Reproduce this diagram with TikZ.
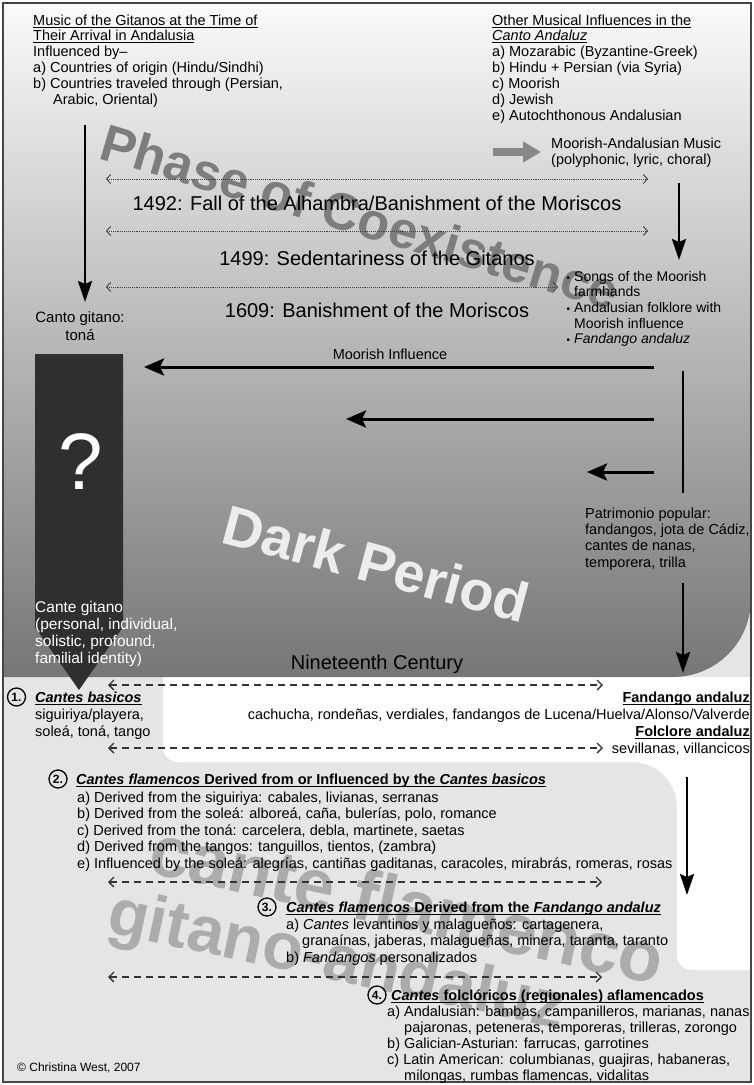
\documentclass[tikz,border=0pt]{standalone}
\usepackage{fontspec}
\setmainfont{Liberation Sans}
\usetikzlibrary{arrows.meta}
\definecolor{lgray}{RGB}{229,229,229}
\definecolor{boxdark}{RGB}{47,47,47}
\definecolor{wmgray}{RGB}{125,125,125}
\definecolor{wmlight}{RGB}{172,172,172}
\definecolor{framec}{RGB}{70,70,70}
\definecolor{gradtop}{RGB}{250,250,250}
\definecolor{gradbot}{RGB}{118,118,118}
\definecolor{fatgray}{RGB}{135,135,135}
\newsavebox{\ulbox}
\newcommand{\uln}[1]{\sbox{\ulbox}{#1}\rlap{\rule[-2.4pt]{\wd\ulbox}{0.9pt}}\usebox{\ulbox}}
\newcommand{\fs}[2]{\fontsize{#1}{#2}\selectfont}
\tikzset{
  txt/.style={inner sep=0pt, anchor=base west, align=left, font=\fs{14.5}{16.5}},
  txtr/.style={inner sep=0pt, anchor=base east, align=right, font=\fs{14.5}{16.5}},
  bigarrow/.style={line width=3pt, -{Stealth[length=20pt,width=17pt,inset=4pt]}},
  varrow/.style={line width=2.5pt, -{Stealth[length=21pt,width=14pt,inset=3pt]}},
  dotarrow/.style={line width=0.9pt, densely dotted, color=black!75,
     {Straight Barb[length=4pt,width=9pt,line width=0.9pt]}-{Straight Barb[length=4pt,width=9pt,line width=0.9pt]}},
  dasharrow/.style={line width=1.4pt, dash pattern=on 7pt off 5pt, color=black!80,
     {Straight Barb[length=5pt,width=10pt,line width=1.3pt]}-{Straight Barb[length=5pt,width=10pt,line width=1.3pt]}},
  numc/.style={circle, draw, line width=1.3pt, minimum size=18pt, inner sep=0pt, font=\bfseries\fs{12}{12}},
  wm/.style={inner sep=0pt, anchor=base west, font=\bfseries},
}
\begin{document}
\begin{tikzpicture}[x=1pt,y=-1pt]
\useasboundingbox (0,0) rectangle (753,1085);
% backgrounds
\fill[white] (0,0) rectangle (753,1085);
\fill[lgray] (3,3) rectangle (751,1082);
\fill[white] (163,677) -- (751,677) -- (751,970) -- (692,970)
   arc[start angle=90,end angle=180,radius=15] -- (677,807)
   arc[start angle=0,end angle=-90,radius=45] -- (178,762)
   arc[start angle=90,end angle=180,radius=15] -- cycle;
\shade[top color=gradtop, bottom color=gradbot] (3,3) -- (751,3) -- (751,599)
   arc[start angle=0,end angle=90,radius=78] -- (3,677) -- cycle;
\draw[framec, line width=2pt] (3,3) rectangle (751,1082);

% watermarks
\node[wm, wmgray, font=\bfseries\fs{52}{52}, rotate=-16.5] (wmphase) at (97,158) {Phase of Coexistence};
\node[wm, white!93!black, font=\bfseries\fs{56}{56}, rotate=-15] (wmdark) at (219,542) {Dark Period};
\node[wm, wmlight, font=\bfseries\fs{72}{72}, rotate=-12.5] (wmcante) at (146,872) {cante flamenco};
\node[wm, wmlight, font=\bfseries\fs{66}{66}, rotate=-12] (wmgitano) at (105,932) {gitano-andaluz};

% question box
\fill[boxdark] (35,354) -- (123,354) -- (123,627) -- (79,690) -- (35,627) -- cycle;
\node[white, font=\fs{80}{80}, inner sep=0pt] (qmark) at (81,462) {?};

% top texts (anchor = baseline of last line)
\node[txt, font=\fs{14.5}{15.9}] (gitanos) at (33,104.5) {\uln{Music of the Gitanos at the Time of}\\\uln{Their Arrival in Andalusia}\\Influenced by–\\a) Countries of origin (Hindu/Sindhi)\\b) Countries traveled through (Persian,\\\hspace*{20pt}Arabic, Oriental)};
\node[txt, font=\fs{14.5}{15.9}] (other) at (492,120.4) {\uln{Other Musical Influences in the}\\\uln{\itshape Canto Andaluz}\\a) Mozarabic (Byzantine-Greek)\\b) Hindu + Persian (via Syria)\\c) Moorish\\d) Jewish\\e) Autochthonous Andalusian};
\node[txt] (moorandal) at (551,164.5) {Moorish-Andalusian Music\\(polyphonic, lyric, choral)};

\node[inner sep=0pt, anchor=base, font=\fs{20}{20}] (y1492) at (377,210) {1492: Fall of the Alhambra/Banishment of the Moriscos};
\node[inner sep=0pt, anchor=base, font=\fs{20}{20}] (y1499) at (377,265) {1499: Sedentariness of the Gitanos};
\node[inner sep=0pt, anchor=base, font=\fs{20}{20}] (y1609) at (377,317) {1609: Banishment of the Moriscos};

\node[inner sep=0pt, anchor=base, align=center, font=\fs{15}{18}] (canto) at (80,340) {Canto gitano:\\toná};

\node[txt, font=\fs{14}{15.7}] (songs) at (574,343.8) {\llap{\fs{10}{10}•\hspace{4pt}}Songs of the Moorish\\farmhands\\\llap{\fs{10}{10}•\hspace{4pt}}Andalusian folklore with\\Moorish influence\\\llap{\fs{10}{10}•\hspace{4pt}}\itshape Fandango andaluz};

\node[inner sep=0pt, anchor=base, font=\fs{14.5}{14.5}] (moorinf) at (390,359) {Moorish Influence};
\node[txt, font=\fs{14.5}{16.4}] (patri) at (585,567.2) {Patrimonio popular:\\fandangos, jota de Cádiz,\\cantes de nanas,\\temporera, trilla};

\node[txt, white, font=\fs{15.5}{17.3}] (cantegit) at (35,663.9) {Cante gitano\\(personal, individual,\\solistic, profound,\\familial identity)};
\node[inner sep=0pt, anchor=base, font=\fs{20}{20}] (c19) at (377,669) {Nineteenth Century};

% section 1
\node[numc] (n1) at (16.5,697) {1.};
\node[txt, font=\fs{14.5}{17}] (s1) at (35,736) {\uln{\bfseries\itshape Cantes basicos}\\siguiriya/playera,\\soleá, toná, tango};
\node[txtr, font=\fs{14.5}{17}] (fand) at (750,736) {\uln{\bfseries Fandango andaluz}\\cachucha, rondeñas, verdiales, fandangos de Lucena/Huelva/Alonso/Valverde\\\uln{\bfseries Folclore andaluz}};
\node[txtr] (sevill) at (750,753) {sevillanas, villancicos};

% section 2
\node[numc] (n2) at (58,779) {2.};
\node[txt] (s2h) at (76,784) {\uln{\bfseries{\itshape Cantes flamencos} Derived from or Influenced by the {\itshape Cantes basicos}}};
\node[txt] (s2) at (77,868) {a) Derived from the siguiriya: cabales, livianas, serranas\\b) Derived from the soleá: alboreá, caña, bulerías, polo, romance\\c) Derived from the toná: carcelera, debla, martinete, saetas\\d) Derived from the tangos: tanguillos, tientos, (zambra)\\e) Influenced by the soleá: alegrías, cantiñas gaditanas, caracoles, mirabrás, romeras, rosas};

% section 3
\node[numc] (n3) at (267,907) {3.};
\node[txt] (s3h) at (286,912) {\uln{\bfseries{\itshape Cantes flamencos} Derived from the {\itshape Fandango andaluz}}};
\node[txt] (s3) at (286,962) {a) {\itshape Cantes} levantinos y malagueños: cartagenera,\\\hspace*{16pt}granaínas, jaberas, malagueñas, minera, taranta, taranto\\b) {\itshape Fandangos} personalizados};

% section 4
\node[numc] (n4) at (377,995) {4.};
\node[txt] (s4h) at (391,1000) {\uln{\bfseries{\itshape Cantes} folclóricos (regionales) aflamencados}};
\node[txt, font=\fs{14.5}{16}] (s4) at (387,1080) {a) Andalusian: bambas, campanilleros, marianas, nanas\\\hspace*{17pt}pajaronas, peteneras, temporeras, trilleras, zorongo\\b) Galician-Asturian: farrucas, garrotines\\c) Latin American: columbianas, guajiras, habaneras,\\\hspace*{17pt}milongas, rumbas flamencas, vidalitas};

\node[txt, font=\fs{12}{12}] (copy) at (17,1071) {© Christina West, 2007};

% arrow coordinates
\coordinate (lva) at (85,125);  \coordinate (lvb) at (85,302);
\coordinate (rva) at (679,183); \coordinate (rvb) at (679,260);
\coordinate (ga) at (493,152);  \coordinate (gb) at (541,152);
\coordinate (d1a) at (106,179); \coordinate (d1b) at (648,179);
\coordinate (d2a) at (106,231); \coordinate (d2b) at (648,231);
\coordinate (d3a) at (106,287); \coordinate (d3b) at (558,287);
\coordinate (m1a) at (654,367); \coordinate (m1b) at (144,367);
\coordinate (m2a) at (654,419); \coordinate (m2b) at (346,419);
\coordinate (m3a) at (654,472); \coordinate (m3b) at (587,472);
\coordinate (rla) at (683,371); \coordinate (rlb) at (683,493);
\coordinate (r2a) at (683,583); \coordinate (r2b) at (683,673);
\coordinate (r3a) at (687,777); \coordinate (r3b) at (687,895);
\coordinate (e1a) at (108,685); \coordinate (e1b) at (603,685);
\coordinate (e2a) at (108,748); \coordinate (e2b) at (603,748);
\coordinate (e3a) at (108,882); \coordinate (e3b) at (602,882);
\coordinate (e4a) at (108,977); \coordinate (e4b) at (602,977);

\draw[varrow] (lva) -- (lvb);
\draw[varrow] (rva) -- (rvb);
\draw[fatgray, line width=8pt, -{Triangle[length=18pt,width=20pt]}] (ga) -- (gb);
\draw[dotarrow] (d1a) -- (d1b);
\draw[dotarrow] (d2a) -- (d2b);
\draw[dotarrow] (d3a) -- (d3b);
\draw[bigarrow] (m1a) -- (m1b);
\draw[bigarrow] (m2a) -- (m2b);
\draw[bigarrow] (m3a) -- (m3b);
\draw[line width=2.5pt] (rla) -- (rlb);
\draw[varrow] (r2a) -- (r2b);
\draw[varrow] (r3a) -- (r3b);
\draw[dasharrow] (e1a) -- (e1b);
\draw[dasharrow] (e2a) -- (e2b);
\draw[dasharrow] (e3a) -- (e3b);
\draw[dasharrow] (e4a) -- (e4b);
\end{tikzpicture}
\end{document}
